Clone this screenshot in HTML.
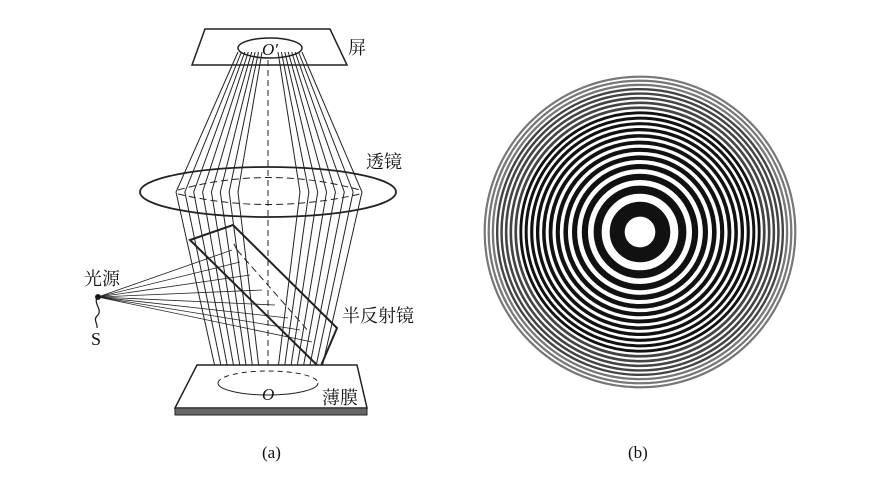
<!DOCTYPE html>
<html><head><meta charset="utf-8">
<style>
html,body{margin:0;padding:0;background:#fff;}
svg{display:block;}
text{font-family:"Liberation Serif","Noto Serif CJK SC","Noto Sans CJK SC",serif;fill:#111;}
</style></head>
<body>
<svg id="fig" width="881" height="485" viewBox="0 0 881 485" xmlns="http://www.w3.org/2000/svg">
<g id="left" stroke="#222" fill="none" stroke-width="1">
  <polygon points="205,29 330,29 347,65 192,65" stroke-width="1.5"/>
  <ellipse cx="270" cy="48" rx="32" ry="10" stroke-width="1.5"/>
  <text x="348" y="54" font-size="18" stroke="none">屏</text>
  <text x="262" y="55" font-size="17" font-style="italic" stroke="none">O′</text>
  <g id="rays"></g>
  <line x1="268" y1="60" x2="268" y2="390" stroke-dasharray="6,4"/>
  <ellipse cx="268" cy="192" rx="128" ry="25" stroke-width="1.8"/>
  <path d="M178,190 Q268,165 360,190 M178,194 Q268,215 360,194" stroke-dasharray="7,4"/>
  <text x="366" y="168" font-size="18" stroke="none">透镜</text>
  <g id="srcrays" stroke-width="0.8"></g>
  <polygon points="190,240 233,225 337,328 320,368" stroke-width="2"/>
  <path d="M237,250 L310,333 M237,250 L232,240" stroke-dasharray="7,4"/>
  <text x="342" y="322" font-size="18" stroke="none">半反射镜</text>
  <polygon points="197,365 357,365 367,408 175,408" fill="#fff" stroke-width="1.5"/>
  <rect x="175" y="408" width="192" height="7" fill="#666" stroke="#222"/>
  <path d="M218,383 A50,12 0 0 1 318,383" stroke-dasharray="5,4"/>
  <path d="M218,383 A50,12 0 0 0 318,383"/>
  <text x="262" y="400" font-size="17" font-style="italic" stroke="none">O</text>
  <text x="322" y="404" font-size="18" stroke="none">薄膜</text>
  <circle cx="98" cy="297" r="2.5" fill="#111"/>
  <path d="M98,297 C92,303 104,310 97,316 C93,320 98,324 97,328" stroke-width="1.3"/>
  <text x="84" y="285" font-size="18" stroke="none">光源</text>
  <text x="91" y="345" font-size="18" stroke="none">S</text>
</g>
<g id="rings"></g>
<text x="262" y="458" font-size="17">(a)</text>
<text x="628" y="458" font-size="17">(b)</text>
</svg>
<script>
const NS="http://www.w3.org/2000/svg";
const rays=document.getElementById('rays');
for(let side=0;side<2;side++){
  for(let i=0;i<8;i++){
    const t=i/7;
    let xt,xl,xb;
    if(side===0){xt=238+t*24;xl=176+t*62;xb=219+t*42;}
    else{xt=302-t*24;xl=362-t*62;xb=318-t*42;}
    const p=document.createElementNS(NS,'polyline');
    p.setAttribute('points',`${xt},52 ${xl},192 ${xb},385`);
    
    
    rays.appendChild(p);
  }
}
const sr=document.getElementById('srcrays');
const ends=[[232,250],[240,262],[250,275],[262,290],[275,305],[288,318],[300,330],[312,342]];
ends.forEach(e=>{
  const l=document.createElementNS(NS,'line');
  l.setAttribute('x1',98);l.setAttribute('y1',297);
  l.setAttribute('x2',e[0]);l.setAttribute('y2',e[1]);
  
  
  sr.appendChild(l);
});
const rg=document.getElementById('rings');
const cx=640,cy=232,R=158;
function ring(r,w,col){
  const c=document.createElementNS(NS,'circle');
  c.setAttribute('cx',cx);c.setAttribute('cy',cy);
  c.setAttribute('r',r);
  c.setAttribute('fill','none');
  c.setAttribute('stroke',col);
  c.setAttribute('stroke-width',w);
  
  
  rg.appendChild(c);
}
const bounds=[];
for(let n=0;;n++){const r=Math.sqrt(256+620*n);if(r>R)break;bounds.push(r);}
for(let k=0;k+1<bounds.length;k+=2){
  const r1=bounds[k],r2=bounds[k+1];
  const col=r2>145?'#777':(r2>125?'#444':'#111');
  ring((r1+r2)/2,(r2-r1)*1.1,col);
}
</script>
</body></html>
